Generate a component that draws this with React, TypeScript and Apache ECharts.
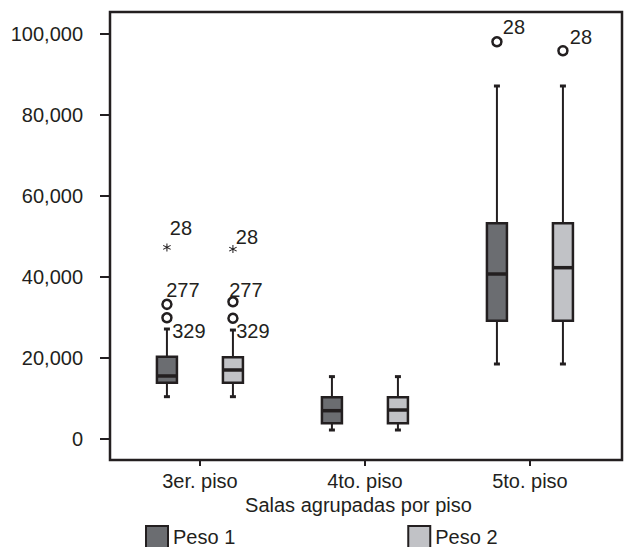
import React, { useEffect, useRef } from "react";
import * as echarts from "echarts";

const categories = ["3er. piso", "4to. piso", "5to. piso"];
const seriesNames = ["Peso 1", "Peso 2"];

// [low whisker, Q1, median, Q3, high whisker]
const peso1Box = [
  [10450, 13900, 15560, 20320, 27160],
  [2220, 3870, 6990, 10300, 15400],
  [18520, 29210, 40740, 53260, 87160],
];
const peso2Box = [
  [10450, 13900, 17040, 20170, 26900],
  [2220, 3870, 7160, 10300, 15400],
  [18520, 29210, 42300, 53260, 87160],
];

// outliers: [category index, value, case id]
const peso1Outliers: [number, number, string][] = [
  [0, 33250, "277"],
  [0, 29950, "329"],
  [2, 98100, "28"],
];
const peso2Outliers: [number, number, string][] = [
  [0, 33900, "277"],
  [0, 29800, "329"],
  [2, 95880, "28"],
];
const peso1Extremes: [number, number, string][] = [[0, 47300, "28"]];
const peso2Extremes: [number, number, string][] = [[0, 46900, "28"]];

const yTickValues = [0, 20000, 40000, 60000, 80000, 100000];
const yRange = { min: -5185, max: 105432 };
const xRange = { min: -0.545, max: 2.558 };

const INK = "#231f20";
const FILL1 = "#6b6d71";
const FILL2 = "#c1c2c6";
const FONT = "Liberation Sans";
const BOX_OFFSET = 33;

const labelOffsets: Record<string, [number, number]> = {
  "p1-277o": [16, -14],
  "p1-329o": [22, 13],
  "p1-28o": [17, -15],
  "p1-28e": [14, -19],
  "p2-277o": [13, -12],
  "p2-329o": [20, 13],
  "p2-28o": [18, -14],
  "p2-28e": [14, -12],
};

const ASTERISK =
  "path://M-0.12 -1 L0.12 -1 L0.12 1 L-0.12 1 Z M0.806 -0.604 L0.926 -0.396 L-0.806 0.604 L-0.926 0.396 Z M-0.926 -0.396 L-0.806 -0.604 L0.926 0.396 L0.806 0.604 Z";

function boxSeries(name: string, data: number[][], fill: string, offset: number) {
  return {
    name,
    type: "custom",
    encode: { x: 0, y: [1, 2, 3, 4, 5] },
    data: data.map((d, i) => [i, ...d]),
    itemStyle: { color: fill },
    renderItem: (params: any, api: any) => {
      const cat = api.value(0);
      const pts = [1, 2, 3, 4, 5].map((k) => api.coord([cat, api.value(k)]));
      const cx = pts[0][0] + offset;
      const [low, q1, med, q3, high] = pts.map((p: number[]) => p[1]);
      const hw = 10;
      const lineStyle = { stroke: INK, lineWidth: 2 };
      const capStyle = { stroke: INK, lineWidth: 3 };
      return {
        type: "group",
        children: [
          { type: "line", shape: { x1: cx, y1: high, x2: cx, y2: q3 }, style: lineStyle },
          { type: "line", shape: { x1: cx, y1: q1, x2: cx, y2: low }, style: lineStyle },
          { type: "line", shape: { x1: cx - 3, y1: high, x2: cx + 3, y2: high }, style: capStyle },
          { type: "line", shape: { x1: cx - 3, y1: low, x2: cx + 3, y2: low }, style: capStyle },
          {
            type: "rect",
            shape: { x: cx - hw, y: q3, width: 2 * hw, height: q1 - q3 },
            style: { fill, stroke: INK, lineWidth: 2.5 },
          },
          {
            type: "line",
            shape: { x1: cx - hw, y1: med, x2: cx + hw, y2: med },
            style: { stroke: INK, lineWidth: 3.5 },
          },
        ],
      };
    },
  };
}

function pointSeries(
  name: string,
  pts: [number, number, string][],
  prefix: string,
  suffix: string,
  offset: number,
  extreme: boolean
) {
  return {
    name,
    type: "scatter",
    symbol: extreme ? ASTERISK : "circle",
    symbolSize: extreme ? 8 : 9,
    symbolOffset: [offset, 0],
    itemStyle: extreme
      ? { color: INK, opacity: 1 }
      : { color: "#ffffff", borderColor: INK, borderWidth: 2.5, opacity: 1 },
    z: 5,
    data: pts.map((p) => ({
      value: [p[0], p[1]],
      name: p[2],
      label: {
        show: true,
        position: "inside",
        offset: labelOffsets[`${prefix}-${p[2]}${suffix}`] || [15, -14],
        formatter: p[2],
        fontSize: 20,
        color: INK,
        fontFamily: FONT,
        opacity: 1,
      },
    })),
  };
}

export default function App() {
  const ref = useRef<HTMLDivElement>(null);
  useEffect(() => {
    if (!ref.current) return;
    const chart = echarts.init(ref.current, null, { renderer: "svg" });
    chart.setOption({
      animation: false,
      backgroundColor: "#ffffff",
      textStyle: { fontFamily: FONT },
      grid: { left: 110, right: 2, top: 12, bottom: 87 },
      xAxis: {
        type: "value",
        min: xRange.min,
        max: xRange.max,
        axisLine: { show: false, onZero: false },
        axisTick: {
          show: true,
          customValues: [0, 1, 2],
          length: 6,
          lineStyle: { color: INK, width: 2 },
        },
        axisLabel: {
          customValues: [0, 1, 2],
          fontSize: 20,
          color: INK,
          fontFamily: FONT,
          margin: 11,
          formatter: (v: number) => categories[Math.round(v)] ?? "",
        },
        splitLine: { show: false },
      },
      yAxis: {
        type: "value",
        min: yRange.min,
        max: yRange.max,
        axisLine: { show: false, onZero: false },
        axisTick: {
          show: true,
          customValues: yTickValues,
          length: 10,
          lineStyle: { color: INK, width: 2 },
        },
        axisLabel: {
          customValues: yTickValues,
          fontSize: 20,
          color: INK,
          fontFamily: FONT,
          margin: 27,
          formatter: (v: number) => v.toLocaleString("en-US"),
        },
        splitLine: { show: false },
      },
      legend: {
        data: [
          { name: seriesNames[0], itemStyle: { color: FILL1, borderColor: INK, borderWidth: 2 } },
          { name: seriesNames[1], itemStyle: { color: FILL2, borderColor: INK, borderWidth: 2 } },
        ],
        icon: "rect",
        itemWidth: 22,
        itemHeight: 22,
        padding: 0,
        left: 145,
        top: 525,
        itemGap: 172,
        textStyle: { fontSize: 20, color: INK, fontFamily: FONT },
      },
      graphic: [
        {
          type: "rect",
          shape: { x: 110, y: 12, width: 512, height: 448 },
          style: { fill: "none", stroke: INK, lineWidth: 2.5 },
          z: 10,
        },
        {
          type: "text",
          x: 358.5,
          y: 505,
          style: {
            text: "Salas agrupadas por piso",
            fontSize: 20,
            fontFamily: FONT,
            fill: INK,
            align: "center",
            verticalAlign: "middle",
          },
        },
      ],
      series: [
        boxSeries(seriesNames[0], peso1Box, FILL1, -BOX_OFFSET),
        boxSeries(seriesNames[1], peso2Box, FILL2, BOX_OFFSET),
        pointSeries("p1o", peso1Outliers, "p1", "o", -BOX_OFFSET, false),
        pointSeries("p2o", peso2Outliers, "p2", "o", BOX_OFFSET, false),
        pointSeries("p1e", peso1Extremes, "p1", "e", -BOX_OFFSET, true),
        pointSeries("p2e", peso2Extremes, "p2", "e", BOX_OFFSET, true),
      ],
    });
    return () => chart.dispose();
  }, []);
  return (
    <div
      ref={ref}
      style={{ position: "fixed", left: 0, top: 0, width: 624, height: 547 }}
    />
  );
}
